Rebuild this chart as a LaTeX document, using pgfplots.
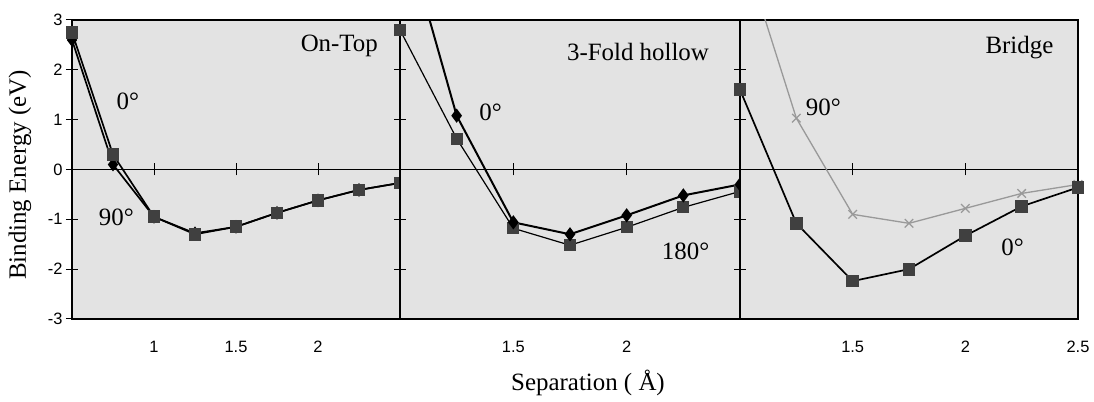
\documentclass[border=0pt]{standalone}
\usepackage{fontspec}
\setmainfont{Liberation Serif}
\newfontfamily\arial{Liberation Sans}
\usepackage{pgfplots}
\pgfplotsset{compat=1.18}
\definecolor{bg}{gray}{0.89}
\definecolor{sq}{gray}{0.25}
\definecolor{lg}{gray}{0.6}
\tikzset{lbl/.style={font=\fontsize{25}{25}\selectfont},
  zeroline/.style={line width=1.5pt, black},
  tkl/.style={line width=1pt, black}}
\pgfplotsset{
  panel/.style={
    scale only axis, height=299bp,
    ymin=-3, ymax=3, xmax=2.5,
    anchor=north west,
    axis background/.style={fill=bg},
    axis line style={line width=1.5pt},
    ytick={-3,-2,-1,0,1,2,3},
    ytick pos=left,
    tick align=center,
    major tick length=12bp,
    ytick style={line width=1pt, black},
    xtick style={draw=none},
    xtick pos=bottom,
    /pgf/number format/assume math mode=true,
    ticklabel style={font=\arial\fontsize{16.5}{16.5}\selectfont},
    xticklabel style={yshift=-13bp},
    every axis plot/.append style={line width=1.7pt},
  },
}
\begin{document}
\begin{tikzpicture}
\useasboundingbox (0bp,0bp) rectangle (1094bp,402bp);
% Panel 1: On-Top
\begin{axis}[panel, at={(72bp,382bp)}, width=328bp, xmin=0.5,
  xtick={1,1.5,2}, xticklabels={1,1.5,2}]
\draw[zeroline] (axis cs:0.5,0) -- (axis cs:2.5,0);
\pgfplotsinvokeforeach{1,1.5,2}{\draw[tkl] (axis cs:#1,0) ++(0bp,-6bp) -- ++(0bp,12bp);}
\addplot[black, mark=diamond*, mark size=5.5bp, mark options={fill=black}] coordinates {
(0.5,2.6) (0.75,0.1) (1,-0.95) (1.25,-1.28) (1.5,-1.15) (1.75,-0.87) (2,-0.62) (2.25,-0.41) (2.5,-0.27)};
\addplot[black, mark=square*, mark size=5.5bp, mark options={fill=sq, draw=sq}] coordinates {
(0.5,2.75) (0.75,0.3) (1,-0.95) (1.25,-1.3) (1.5,-1.15) (1.75,-0.87) (2,-0.62) (2.25,-0.41) (2.5,-0.27)};
\node[lbl] at (axis cs:2.13,2.48) {On-Top};
\node[lbl] at (axis cs:0.84,1.36) {0°};
\node[lbl] at (axis cs:0.77,-0.96) {90°};
\end{axis}
% Panel 2: 3-Fold hollow
\begin{axis}[panel, at={(400bp,382bp)}, width=340bp, xmin=1,
  xtick={1.5,2}, xticklabels={1.5,2}, yticklabels={}]
\draw[zeroline] (axis cs:1,0) -- (axis cs:2.5,0);
\pgfplotsinvokeforeach{1.5,2}{\draw[tkl] (axis cs:#1,0) ++(0bp,-6bp) -- ++(0bp,12bp);}
\addplot[black, line width=1.2pt, mark=square*, mark size=5.5bp, mark options={fill=sq, draw=sq}] coordinates {
(1,2.8) (1.25,0.62) (1.5,-1.18) (1.75,-1.52) (2,-1.16) (2.25,-0.76) (2.5,-0.44)};
\addplot[black, line width=2pt, mark=diamond*, mark size=5.5bp, mark options={fill=black}, mark indices={1,2,3,4,5,6}] coordinates {
(1,5.1) (1.25,1.08) (1.5,-1.06) (1.75,-1.3) (2,-0.92) (2.25,-0.52) (2.5,-0.3)};
\node[lbl] at (axis cs:2.05,2.36) {3-Fold hollow};
\node[lbl] at (axis cs:1.4,1.14) {0°};
\node[lbl] at (axis cs:2.26,-1.64) {180°};
\end{axis}
% Panel 3: Bridge
\begin{axis}[panel, at={(740bp,382bp)}, width=338bp, xmin=1,
  xtick={1.5,2,2.5}, xticklabels={1.5,2,2.5}, yticklabels={}]
\draw[zeroline] (axis cs:1,0) -- (axis cs:2.5,0);
\pgfplotsinvokeforeach{1.5,2,2.5}{\draw[tkl] (axis cs:#1,0) ++(0bp,-6bp) -- ++(0bp,12bp);}
\addplot[lg, line width=1.3pt, mark=x, mark size=6bp, mark indices={1,2,3,4,5,6}] coordinates {
(1,4.6) (1.25,1.03) (1.5,-0.9) (1.75,-1.08) (2,-0.78) (2.25,-0.48) (2.5,-0.3)};
\addplot[black, mark=square*, mark size=5.5bp, mark options={fill=sq, draw=sq}] coordinates {
(1,1.6) (1.25,-1.08) (1.5,-2.24) (1.75,-2.0) (2,-1.33) (2.25,-0.74) (2.5,-0.36)};
\node[lbl] at (axis cs:2.24,2.44) {Bridge};
\node[lbl] at (axis cs:1.37,1.24) {90°};
\node[lbl] at (axis cs:2.21,-1.56) {0°};
\end{axis}
\node[lbl, rotate=90] at (20bp,227bp) {Binding Energy (eV)};
\node[lbl] at (588bp,19bp) {Separation ( Å)};
\end{tikzpicture}
\end{document}
